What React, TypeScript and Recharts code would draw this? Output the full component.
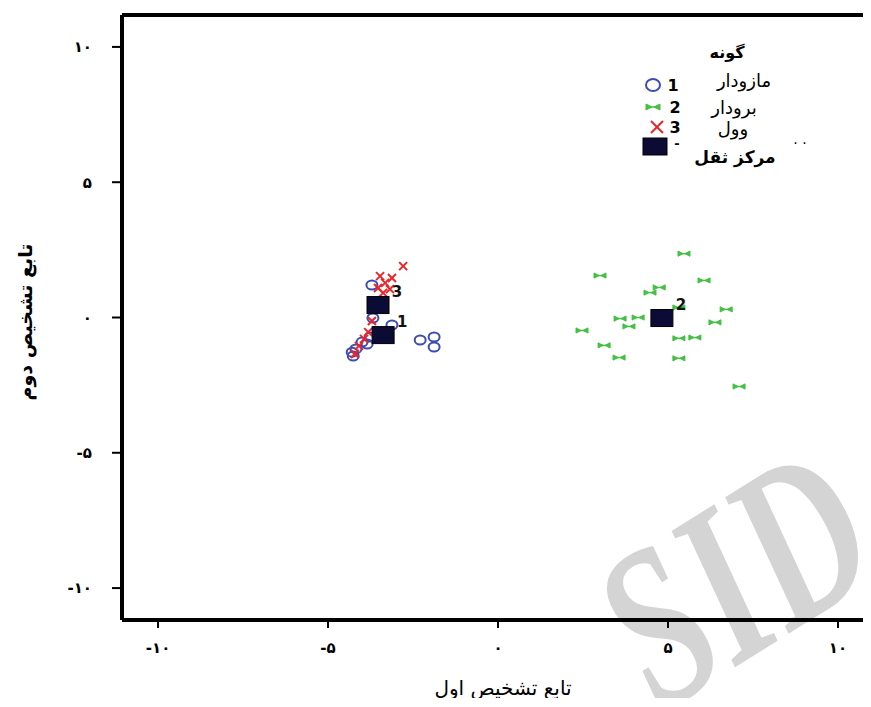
import React from 'react';
import { ScatterChart, Scatter, XAxis, YAxis, ReferenceLine } from 'recharts';

const xTicks = [-10, -5, 0, 5, 10];
const yTicks = [-10, -5, 0, 5, 10];

// گونه ۱ - مازودار
const g1X = [-3.71, -3.68, -3.12, -3.76, -4.0, -4.29, -4.26, -4.18, -2.29, -1.88, -1.88, -3.85];
const g1Y = [1.2, -0.02, -0.28, -0.72, -0.91, -1.28, -1.42, -1.16, -0.83, -0.72, -1.09, -0.98];

// گونه ۲ - برودار
const g2X = [5.47, 3.0, 6.06, 4.74, 4.47, 6.71, 3.59, 4.12, 3.85, 6.38, 2.47, 5.32, 5.79, 3.12, 3.56, 5.32, 7.09, 5.32];
const g2Y = [2.36, 1.55, 1.37, 1.11, 0.92, 0.3, -0.04, 0.0, -0.33, -0.18, -0.48, -0.77, -0.74, -1.03, -1.48, -1.51, -2.55, 0.37];

// گونه ۳ - وول
const g3X = [-2.79, -3.47, -3.12, -3.32, -3.53, -3.18, -3.38, -3.71, -3.82, -3.94, -4.09, -4.21];
const g3Y = [1.9, 1.53, 1.46, 1.28, 1.09, 1.05, 0.91, -0.13, -0.54, -0.79, -1.05, -1.35];

// مرکز ثقل
const cLabels = ['1', '2', '3'];
const cX = [-3.38, 4.82, -3.53];
const cY = [-0.65, -0.02, 0.46];

const legendNames = ['مازودار', 'برودار', 'وول'];

const toPoints = (xs: number[], ys: number[]) => xs.map((x, i) => ({ x, y: ys[i] }));
const g1 = toPoints(g1X, g1Y);
const g2 = toPoints(g2X, g2Y);
const g3 = toPoints(g3X, g3Y);
const centroids = cX.map((x, i) => ({ x, y: cY[i], label: cLabels[i] }));

const FA_DIGITS = '۰۱۲۳۴۵۶۷۸۹';
const fa = (v: number) => String(v).replace(/\d/g, (d) => FA_DIGITS[+d]);

const BLUE = '#3b4cb4';
const GREEN = '#44c044';
const RED = '#e8262a';
const NAVY = '#0b0b36';
const AR_FONT = 'DejaVu Sans';

const CircleShape = (p: any) => (
  <ellipse cx={p.cx} cy={p.cy} rx={5.5} ry={4.5} fill="none" stroke={BLUE} strokeWidth={2} />
);

const Bowtie = ({ cx, cy, w = 6, h = 2.6 }: any) => (
  <g fill={GREEN} stroke={GREEN} strokeWidth={1}>
    <polygon points={`${cx - w},${cy - h} ${cx - w},${cy + h} ${cx - 1},${cy}`} />
    <polygon points={`${cx + w},${cy - h} ${cx + w},${cy + h} ${cx + 1},${cy}`} />
    <line x1={cx - w} y1={cy} x2={cx + w} y2={cy} strokeWidth={1.5} />
  </g>
);

const BowtieShape = (p: any) => <Bowtie cx={p.cx} cy={p.cy} />;

const Cross = ({ cx, cy, s = 4 }: any) => (
  <g stroke={RED} strokeWidth={2}>
    <line x1={cx - s} y1={cy - s} x2={cx + s} y2={cy + s} />
    <line x1={cx - s} y1={cy + s} x2={cx + s} y2={cy - s} />
  </g>
);

const CrossShape = (p: any) => <Cross cx={p.cx} cy={p.cy} />;

const CentroidShape = (p: any) => (
  <g>
    <rect x={p.cx - 11} y={p.cy - 8.5} width={22} height={17} fill={NAVY} stroke="#000" strokeWidth={1} />
    <text
      x={p.cx + 19}
      y={p.cy - 8}
      fontFamily="DejaVu Sans"
      fontWeight="bold"
      fontSize={15}
      fill="#111"
      textAnchor="middle"
    >
      {p.payload.label}
    </text>
  </g>
);

function Overlay() {
  return (
    <svg
      width={863}
      height={699}
      style={{ position: 'absolute', left: 0, top: 0, pointerEvents: 'none' }}
    >
      <g fontFamily={AR_FONT} fill="#000">
        <text x={719} y={50} textAnchor="middle" fontSize={16} fontWeight="bold">گونه</text>

        <ellipse cx={645} cy={77} rx={7} ry={6} fill="none" stroke={BLUE} strokeWidth={2} />
        <text x={665} y={83} textAnchor="middle" fontSize={16} fontWeight="bold">1</text>
        <text x={736} y={79} textAnchor="middle" fontSize={18}>{legendNames[0]}</text>

        <Bowtie cx={645} cy={99} w={7} h={3} />
        <text x={667} y={105} textAnchor="middle" fontSize={16} fontWeight="bold">2</text>
        <text x={726} y={106} textAnchor="middle" fontSize={18}>{legendNames[1]}</text>

        <Cross cx={649} cy={119} s={6} />
        <text x={667} y={125} textAnchor="middle" fontSize={16} fontWeight="bold">3</text>
        <text x={725} y={127} textAnchor="middle" fontSize={18}>{legendNames[2]}</text>

        <rect x={635} y={130} width={24} height={17} fill={NAVY} stroke="#000" strokeWidth={1} />
        <text x={669} y={140} textAnchor="middle" fontSize={13} fontWeight="bold">-</text>
        <text x={727} y={155} textAnchor="middle" fontSize={17} fontWeight="bold">مرکز ثقل</text>
        <text x={792} y={136} textAnchor="middle" fontSize={14}>. .</text>
      </g>

      <text
        x={495}
        y={687}
        textAnchor="middle"
        fontFamily={AR_FONT}
        fontSize={20}
        fill="#000"
      >
        تابع تشخیص اول
      </text>
      <text
        x={24}
        y={314}
        textAnchor="middle"
        fontFamily={AR_FONT}
        fontSize={19}
        fontWeight="bold"
        fill="#000"
        transform="rotate(-90, 24, 314)"
      >
        تابع تشخیص دوم
      </text>
    </svg>
  );
}

function Watermark() {
  return (
    <svg width={863} height={699} style={{ position: 'absolute', left: 0, top: 0 }}>
      <text
        x={0}
        y={0}
        fontFamily="Liberation Serif"
        fontStyle="italic"
        fontWeight="bold"
        fontSize={190}
        fill="#d4d4d4"
        transform="translate(652, 706) rotate(-32) scale(0.85, 1.2)"
      >
        SID
      </text>
    </svg>
  );
}

export default function App() {
  return (
    <div style={{ position: 'relative', width: 863, height: 699, marginBottom: -9, overflow: 'hidden' }}>
      <Watermark />
      <div style={{ position: 'absolute', left: 0, top: 0 }}>
        <ScatterChart width={863} height={690} margin={{ top: 7, right: 0, bottom: 0, left: 0 }}>
          <XAxis
            type="number"
            dataKey="x"
            domain={[-11.06, 10.97]}
            ticks={xTicks}
            allowDataOverflow
            height={78}
            axisLine={{ stroke: '#000', strokeWidth: 4 }}
            tickLine={{ stroke: '#000', strokeWidth: 2 }}
            tickSize={8}
            tickMargin={14}
            tickFormatter={fa}
            tick={{ fill: '#000', fontSize: 15, fontWeight: 'bold', fontFamily: AR_FONT }}
          />
          <YAxis
            type="number"
            dataKey="y"
            domain={[-11.18, 11.18]}
            ticks={yTicks}
            allowDataOverflow
            width={114}
            axisLine={{ stroke: '#000', strokeWidth: 4 }}
            tickLine={{ stroke: '#000', strokeWidth: 2 }}
            tickSize={10}
            tickMargin={20}
            tickFormatter={fa}
            tick={{ fill: '#000', fontSize: 15, fontWeight: 'bold', fontFamily: AR_FONT }}
          />
          <ReferenceLine y={11.18} stroke="#000" strokeWidth={4} />
          <Scatter data={g1} shape={CircleShape} isAnimationActive={false} />
          <Scatter data={g2} shape={BowtieShape} isAnimationActive={false} />
          <Scatter data={g3} shape={CrossShape} isAnimationActive={false} />
          <Scatter data={centroids} shape={CentroidShape} isAnimationActive={false} />
        </ScatterChart>
      </div>
      <Overlay />
    </div>
  );
}
